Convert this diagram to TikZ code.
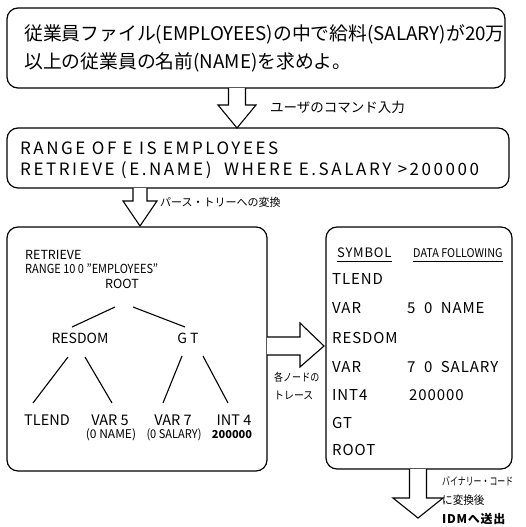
\documentclass[tikz,border=0pt]{standalone}
\usepackage{fontspec}
\usepackage{graphicx}
\setmainfont{Noto Sans CJK JP}
\newfontfamily\widefont[LetterSpace=15]{Noto Sans CJK JP}
\newfontfamily\midfont[LetterSpace=6]{Noto Sans CJK JP}
\usetikzlibrary{calc}
\tikzset{
  box/.style={draw, rounded corners=11pt, line width=1.2pt, inner sep=0pt},
  txt/.style={anchor=west, inner sep=0pt},
  ctxt/.style={anchor=center, inner sep=0pt},
  hollow/.style={draw, line width=1.1pt, fill=white, line join=miter},
  edge/.style={line width=1.1pt},
  uline/.style={line width=1pt}
}
\begin{document}
\begin{tikzpicture}[x=1pt,y=-1pt]
\useasboundingbox (0,0) rectangle (525,527);
% boxes
\node[box, minimum width=498pt, minimum height=80pt] (b1) at (256,48) {};
\node[box, minimum width=502pt, minimum height=60pt] (b2) at (258,158) {};
\node[box, minimum width=260pt, minimum height=244pt] (b3) at (137,349) {};
\node[box, minimum width=186pt, minimum height=242pt] (b4) at (419,348) {};
% box 1 text
\node[txt, font=\fontsize{18.8}{20}\selectfont] (q1) at (24,34) {従業員ファイル(EMPLOYEES)の中で給料(SALARY)が20万};
\node[txt, font=\fontsize{18.8}{20}\selectfont] (q2) at (24,62) {以上の従業員の名前(NAME)を求めよ。};
% box 2 text
\node[txt, font=\widefont\fontsize{17}{20}\selectfont] (c1) at (20,148) {RANGE OF E IS EMPLOYEES};
\node[txt, font=\widefont\fontsize{17}{20}\selectfont] (c2) at (20,170) {RETRIEVE (E.NAME)\ \ WHERE E.SALARY >200000};
% arrow 1
\coordinate (a1s) at (237,88);
\coordinate (a1e) at (237,128);
\path[hollow] ($(a1s)+(-8.5,0)$) -- ($(a1s)+(-8.5,17)$) -- ($(a1s)+(-19,17)$) -- (a1e)
  -- ($(a1s)+(19,17)$) -- ($(a1s)+(8.5,17)$) -- ($(a1s)+(8.5,0)$);
\node[txt, font=\fontsize{13.5}{15}\selectfont] (l1) at (270,107) {ユーザのコマンド入力};
% arrow 2
\coordinate (a2s) at (140,188);
\coordinate (a2e) at (140,226);
\path[hollow] ($(a2s)+(-7,0)$) -- ($(a2s)+(-7,13)$) -- ($(a2s)+(-17,13)$) -- (a2e)
  -- ($(a2s)+(17,13)$) -- ($(a2s)+(7,13)$) -- ($(a2s)+(7,0)$);
\node[txt, font=\fontsize{11}{13}\selectfont] (l2) at (160,202) {パース・トリーへの変換};
% box 3 text
\node[txt, font=\fontsize{12.5}{14}\selectfont] (r1) at (25,255) {RETRIEVE};
\node[txt, font=\fontsize{12.5}{14}\selectfont] (r2) at (25,269) {\scalebox{0.88}[1]{RANGE 10 0 "EMPLOYEES"}};
\node[ctxt, font=\fontsize{12.5}{14}\selectfont] (root) at (122,284) {ROOT};
\node[ctxt, font=\fontsize{14}{15}\selectfont] (resdom) at (80,338) {RESDOM};
\node[ctxt, font=\fontsize{14}{15}\selectfont] (gt) at (188,338) {G T};
\node[ctxt, font=\fontsize{14.5}{15}\selectfont] (tlend) at (47,420) {TLEND};
\node[ctxt, font=\fontsize{14.5}{15}\selectfont] (var5) at (110,420) {VAR 5};
\node[ctxt, font=\fontsize{14.5}{15}\selectfont] (var7) at (173,420) {VAR 7};
\node[ctxt, font=\fontsize{14.5}{15}\selectfont] (int4) at (234,420) {INT 4};
\node[ctxt, font=\fontsize{12}{12}\selectfont] (n5) at (111,435) {(0 NAME)};
\node[ctxt, font=\fontsize{12}{12}\selectfont] (n7) at (174,435) {\scalebox{0.92}[1]{(0 SALARY)}};
\node[ctxt, font=\fontsize{11}{12}\selectfont\bfseries] (n4) at (232,435) {200000};
\draw[edge] ($(root)+(-7,23)$) -- ($(resdom)+(-8,-11)$);
\draw[edge] ($(root)+(11,23)$) -- ($(gt)+(-3,-11)$);
\draw[edge] ($(resdom)+(-12,19)$) -- ($(tlend)+(-14,-17)$);
\draw[edge] ($(resdom)+(5,19)$) -- ($(var5)+(2,-17)$);
\draw[edge] ($(gt)+(-6,18)$) -- ($(var7)+(-10,-17)$);
\draw[edge] ($(gt)+(15,18)$) -- ($(int4)+(-6,-17)$);
% arrow 3
\coordinate (a3s) at (267,346);
\coordinate (a3e) at (324,346);
\path[hollow] ($(a3s)+(0,-9)$) -- ($(a3s)+(33,-9)$) -- ($(a3s)+(33,-23)$) -- (a3e)
  -- ($(a3s)+(33,21)$) -- ($(a3s)+(33,9)$) -- ($(a3s)+(0,9)$);
\node[txt, font=\fontsize{11}{12}\selectfont] (l3a) at (274,377) {\scalebox{0.82}[1]{各ノードの}};
\node[txt, font=\fontsize{11}{12}\selectfont] (l3b) at (274,395) {\scalebox{0.9}[1]{トレース}};
% box 4 text
\node[txt, font=\midfont\fontsize{13}{14}\selectfont] (sym) at (337,253) {SYMBOL};
\node[txt, font=\fontsize{12}{12}\selectfont] (dat) at (413,253) {\scalebox{0.9}[1]{DATA FOLLOWING}};
\draw[uline] ($(sym.south west)+(0,3)$) -- ($(sym.south east)+(0,3)$);
\draw[uline] ($(dat.south west)+(0,4)$) -- ($(dat.south east)+(0,4)$);
\node[txt, font=\midfont\fontsize{15}{15}\selectfont] (s1) at (332,279) {TLEND};
\node[txt, font=\midfont\fontsize{15}{15}\selectfont] (s2) at (332,308) {VAR};
\node[txt, font=\midfont\fontsize{15}{15}\selectfont] (d2) at (407,308) {5\ \ 0\ \ NAME};
\node[txt, font=\midfont\fontsize{15}{15}\selectfont] (s3) at (332,338) {RESDOM};
\node[txt, font=\midfont\fontsize{15}{15}\selectfont] (s4) at (332,367) {VAR};
\node[txt, font=\midfont\fontsize{15}{15}\selectfont] (d4) at (407,367) {7\ \ 0\ \ SALARY};
\node[txt, font=\midfont\fontsize{15}{15}\selectfont] (s5) at (332,395) {INT4};
\node[txt, font=\midfont\fontsize{15}{15}\selectfont] (d5) at (409,395) {200000};
\node[txt, font=\midfont\fontsize{15}{15}\selectfont] (s6) at (332,423) {GT};
\node[txt, font=\midfont\fontsize{15}{15}\selectfont] (s7) at (332,450) {ROOT};
% arrow 4
\coordinate (a4s) at (418,469);
\coordinate (a4e) at (418,518);
\path[hollow] ($(a4s)+(-8.5,0)$) -- ($(a4s)+(-8.5,29)$) -- ($(a4s)+(-25,29)$) -- (a4e)
  -- ($(a4s)+(25,29)$) -- ($(a4s)+(8.5,29)$) -- ($(a4s)+(8.5,0)$);
\node[txt, font=\fontsize{11}{12}\selectfont] (l4a) at (442,481) {\scalebox{0.72}[1]{バイナリー・コード}};
\node[txt, font=\fontsize{11.5}{12}\selectfont] (l4b) at (442,500) {\scalebox{0.92}[1]{に変換後}};
\node[txt, font=\midfont\fontsize{12}{12}\selectfont\bfseries] (l4c) at (442,519) {IDMへ送出};
\end{tikzpicture}
\end{document}
